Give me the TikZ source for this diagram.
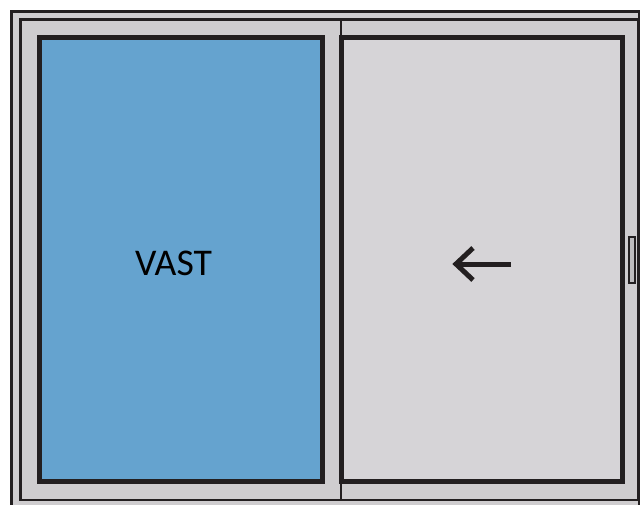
\documentclass[tikz,border=0pt]{standalone}
\usepackage{fontspec}
\setmainfont{Carlito}
\usetikzlibrary{positioning}
\definecolor{framegrey}{HTML}{CFCDCF}
\definecolor{panegrey}{HTML}{D6D4D7}
\definecolor{paneblue}{HTML}{65A3CF}
\definecolor{linedark}{HTML}{231F20}
\definecolor{gripgrey}{HTML}{BDBBBD}

\begin{document}
\begin{tikzpicture}[x=0.75pt, y=-0.75pt, >=latex]
  \tikzset{frameline/.style = {draw=linedark, line width=2pt, fill=framegrey}}
  \tikzset{sash/.style = {draw=linedark, line width=3.75pt, rectangle, inner sep=0pt, minimum height=332.6pt}}
  \tikzset{handle/.style = {draw=linedark, line width=1.7pt, fill=gripgrey, rectangle, inner sep=0pt, minimum width=4.4pt, minimum height=34.4pt}}
  \tikzset{pointer/.style = {draw=linedark, line width=3.75pt}}
  \useasboundingbox (0,0) rectangle (641,504);
  \clip (0,0) rectangle (641,504);

  % outer frame and the two fixed parts
  \draw [frameline] (11.5,11.2) rectangle (639,510);
  \draw [frameline] (20.5,19.5) rectangle (638.5,500);
  \draw [draw=linedark, line width=1.5pt] (340.5,19.5) -- (340.5,500);

  % sashes
  \node [sash, fill=paneblue, minimum width=212.5pt] (fixedpane) at (181,259.7) {};
  \node [sash, fill=panegrey, minimum width=210.5pt] (slidingpane) at (482,259.7) {};
  \node [font=\fontsize{28.3pt}{32pt}\selectfont] (vast) at (173.5,263) {VAST};

  % handle
  \node [handle] (grip) at (631.7,260) {};

  % arrow
  \coordinate (arrowtail) at (511,264);
  \coordinate (arrowtip) at (456,264);
  \coordinate (barbup) at (473,248);
  \coordinate (barbdown) at (473,280);
  \draw [pointer] (arrowtail) -- (arrowtip);
  \draw [pointer, miter limit=4] (barbup) -- (arrowtip) -- (barbdown);
\end{tikzpicture}
\end{document}
